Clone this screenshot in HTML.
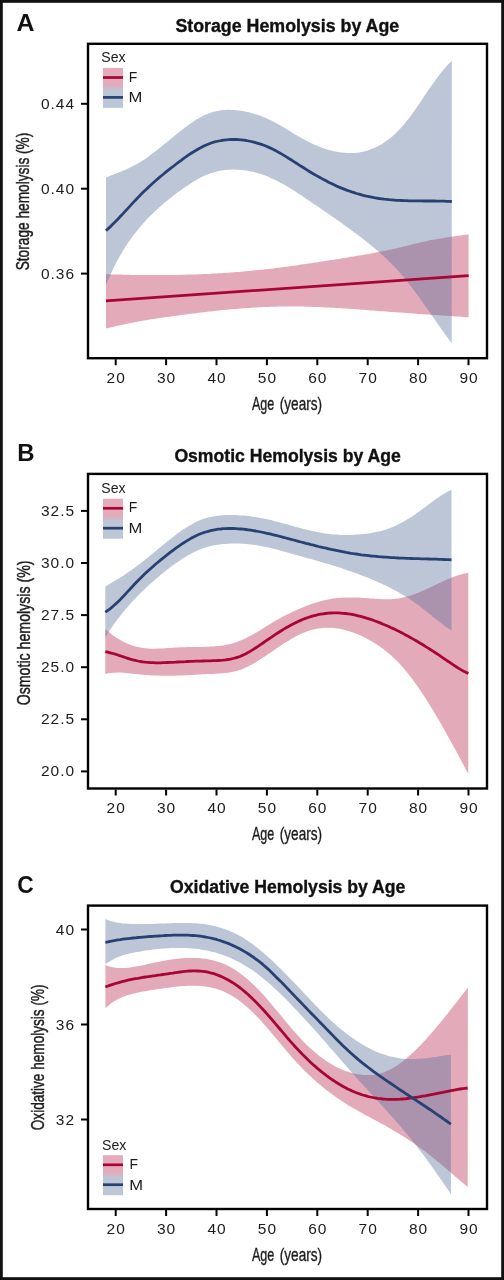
<!DOCTYPE html>
<html><head><meta charset="utf-8"><style>
html,body{margin:0;padding:0;background:#fff;}
svg{display:block;font-family:"Liberation Sans", sans-serif;will-change:transform;}
</style></head><body>
<svg width="504" height="1280" viewBox="0 0 504 1280">
<defs><linearGradient id="lg" x1="0" y1="0" x2="0" y2="1">
<stop offset="0" stop-color="#e4abbb"/><stop offset="0.43" stop-color="#e4abbb"/><stop offset="0.57" stop-color="#bcc6d7"/><stop offset="1" stop-color="#bcc6d7"/>
</linearGradient></defs>
<rect x="0" y="0" width="504" height="1280" fill="#fff"/>
<path d="M106.0,274.2 L108.5,274.3 L111.0,274.4 L113.5,274.4 L116.0,274.5 L118.5,274.6 L121.0,274.6 L123.5,274.7 L126.0,274.8 L128.5,274.8 L131.0,274.9 L133.5,274.9 L136.0,274.9 L138.5,275.0 L141.0,275.0 L143.5,275.0 L146.0,275.1 L148.5,275.1 L151.0,275.1 L153.5,275.1 L156.0,275.1 L158.5,275.1 L161.0,275.1 L163.5,275.1 L166.0,275.0 L168.5,275.0 L171.0,275.0 L173.5,274.9 L176.0,274.9 L178.5,274.9 L181.0,274.8 L183.5,274.7 L186.0,274.7 L188.5,274.6 L191.0,274.5 L193.5,274.5 L196.0,274.4 L198.5,274.3 L201.0,274.2 L203.5,274.1 L206.0,274.0 L208.5,273.9 L211.0,273.7 L213.5,273.6 L216.0,273.5 L218.5,273.3 L221.0,273.2 L223.5,273.0 L226.0,272.8 L228.5,272.7 L231.0,272.5 L233.5,272.3 L236.0,272.1 L238.5,271.9 L241.0,271.7 L243.5,271.5 L246.0,271.3 L248.5,271.1 L251.0,270.8 L253.5,270.6 L256.0,270.3 L258.5,270.1 L261.0,269.8 L263.5,269.5 L266.0,269.2 L268.5,269.0 L271.0,268.7 L273.5,268.4 L276.0,268.0 L278.5,267.7 L281.0,267.4 L283.5,267.1 L286.0,266.8 L288.6,266.4 L291.1,266.1 L293.6,265.7 L296.1,265.4 L298.6,265.0 L301.1,264.6 L303.6,264.3 L306.1,263.9 L308.6,263.5 L311.1,263.2 L313.6,262.8 L316.1,262.4 L318.6,262.0 L321.1,261.6 L323.6,261.2 L326.1,260.8 L328.6,260.4 L331.1,260.1 L333.6,259.7 L336.1,259.3 L338.6,258.9 L341.1,258.5 L343.6,258.1 L346.1,257.7 L348.6,257.3 L351.1,256.8 L353.6,256.4 L356.1,256.0 L358.6,255.6 L361.1,255.2 L363.6,254.8 L366.1,254.3 L368.6,253.9 L371.1,253.5 L373.6,253.0 L376.1,252.5 L378.6,252.1 L381.1,251.6 L383.6,251.1 L386.1,250.6 L388.6,250.0 L391.1,249.5 L393.6,248.9 L396.1,248.4 L398.6,247.8 L401.1,247.2 L403.6,246.6 L406.1,245.9 L408.6,245.3 L411.1,244.7 L413.6,244.1 L416.1,243.5 L418.6,242.9 L421.1,242.3 L423.6,241.7 L426.1,241.2 L428.6,240.6 L431.1,240.1 L433.6,239.7 L436.1,239.2 L438.6,238.8 L441.1,238.4 L443.6,238.0 L446.1,237.6 L448.6,237.2 L451.1,236.8 L453.6,236.5 L456.1,236.1 L458.6,235.7 L461.1,235.4 L463.6,235.0 L466.1,234.7 L468.6,234.3 L468.6,317.3 L466.1,317.2 L463.6,317.0 L461.1,316.8 L458.6,316.6 L456.1,316.5 L453.6,316.3 L451.1,316.1 L448.6,316.0 L446.1,315.8 L443.6,315.6 L441.1,315.4 L438.6,315.3 L436.1,315.1 L433.6,314.9 L431.1,314.7 L428.6,314.6 L426.1,314.4 L423.6,314.2 L421.1,314.0 L418.6,313.9 L416.1,313.7 L413.6,313.5 L411.1,313.3 L408.6,313.2 L406.1,313.0 L403.6,312.8 L401.1,312.6 L398.6,312.4 L396.1,312.3 L393.6,312.1 L391.1,311.9 L388.6,311.7 L386.1,311.5 L383.6,311.3 L381.1,311.2 L378.6,311.0 L376.1,310.8 L373.6,310.6 L371.1,310.4 L368.6,310.2 L366.1,310.0 L363.6,309.8 L361.1,309.7 L358.6,309.5 L356.1,309.3 L353.6,309.1 L351.1,308.9 L348.6,308.8 L346.1,308.6 L343.6,308.4 L341.1,308.3 L338.6,308.1 L336.1,308.0 L333.6,307.8 L331.1,307.7 L328.6,307.6 L326.1,307.4 L323.6,307.3 L321.1,307.2 L318.6,307.1 L316.1,307.0 L313.6,306.9 L311.1,306.8 L308.6,306.7 L306.1,306.7 L303.6,306.6 L301.1,306.6 L298.6,306.5 L296.1,306.5 L293.6,306.5 L291.1,306.5 L288.6,306.5 L286.0,306.5 L283.5,306.5 L281.0,306.6 L278.5,306.6 L276.0,306.7 L273.5,306.8 L271.0,306.8 L268.5,306.9 L266.0,307.0 L263.5,307.1 L261.0,307.2 L258.5,307.3 L256.0,307.5 L253.5,307.6 L251.0,307.8 L248.5,307.9 L246.0,308.1 L243.5,308.3 L241.0,308.5 L238.5,308.7 L236.0,308.9 L233.5,309.1 L231.0,309.3 L228.5,309.5 L226.0,309.8 L223.5,310.0 L221.0,310.3 L218.5,310.5 L216.0,310.8 L213.5,311.1 L211.0,311.4 L208.5,311.6 L206.0,311.9 L203.5,312.2 L201.0,312.5 L198.5,312.8 L196.0,313.2 L193.5,313.5 L191.0,313.8 L188.5,314.1 L186.0,314.4 L183.5,314.8 L181.0,315.1 L178.5,315.4 L176.0,315.7 L173.5,316.1 L171.0,316.4 L168.5,316.8 L166.0,317.1 L163.5,317.5 L161.0,317.8 L158.5,318.2 L156.0,318.6 L153.5,318.9 L151.0,319.3 L148.5,319.7 L146.0,320.2 L143.5,320.6 L141.0,321.0 L138.5,321.5 L136.0,322.0 L133.5,322.5 L131.0,322.9 L128.5,323.4 L126.0,324.0 L123.5,324.5 L121.0,325.0 L118.5,325.6 L116.0,326.1 L113.5,326.7 L111.0,327.3 L108.5,327.9 L106.0,328.5 Z" fill="#b82a52" fill-opacity="0.40"/>
<path d="M106.0,177.6 L108.5,176.5 L111.0,175.5 L113.5,174.5 L116.0,173.5 L118.5,172.5 L121.0,171.5 L123.5,170.4 L126.0,169.4 L128.6,168.3 L131.1,167.1 L133.6,165.8 L136.1,164.5 L138.6,163.1 L141.1,161.5 L143.6,159.9 L146.1,158.2 L148.6,156.5 L151.1,154.6 L153.6,152.7 L156.1,150.8 L158.6,148.8 L161.1,146.8 L163.6,144.8 L166.1,142.7 L168.6,140.7 L171.2,138.6 L173.7,136.5 L176.2,134.5 L178.7,132.5 L181.2,130.5 L183.7,128.5 L186.2,126.7 L188.7,124.8 L191.2,123.1 L193.7,121.4 L196.2,119.8 L198.7,118.3 L201.2,116.9 L203.7,115.6 L206.2,114.5 L208.7,113.5 L211.2,112.6 L213.7,111.8 L216.3,111.2 L218.8,110.7 L221.3,110.3 L223.8,110.1 L226.3,109.9 L228.8,109.8 L231.3,109.9 L233.8,110.0 L236.3,110.2 L238.8,110.5 L241.3,110.8 L243.8,111.3 L246.3,111.7 L248.8,112.3 L251.3,113.0 L253.8,113.7 L256.3,114.4 L258.9,115.3 L261.4,116.2 L263.9,117.2 L266.4,118.3 L268.9,119.4 L271.4,120.6 L273.9,121.9 L276.4,123.3 L278.9,124.7 L281.4,126.1 L283.9,127.6 L286.4,129.1 L288.9,130.6 L291.4,132.1 L293.9,133.7 L296.4,135.2 L298.9,136.6 L301.5,138.1 L304.0,139.5 L306.5,140.8 L309.0,142.1 L311.5,143.3 L314.0,144.4 L316.5,145.5 L319.0,146.5 L321.5,147.5 L324.0,148.4 L326.5,149.2 L329.0,149.9 L331.5,150.6 L334.0,151.2 L336.5,151.7 L339.0,152.2 L341.5,152.5 L344.1,152.8 L346.6,153.0 L349.1,153.1 L351.6,153.1 L354.1,153.0 L356.6,152.7 L359.1,152.4 L361.6,152.0 L364.1,151.5 L366.6,150.8 L369.1,150.0 L371.6,149.1 L374.1,148.1 L376.6,146.9 L379.1,145.6 L381.6,144.2 L384.1,142.6 L386.6,140.8 L389.2,138.9 L391.7,136.9 L394.2,134.7 L396.7,132.3 L399.2,129.8 L401.7,127.1 L404.2,124.2 L406.7,121.1 L409.2,117.9 L411.7,114.5 L414.2,111.0 L416.7,107.4 L419.2,103.8 L421.7,100.1 L424.2,96.3 L426.7,92.6 L429.2,88.9 L431.8,85.3 L434.3,81.7 L436.8,78.3 L439.3,74.9 L441.8,71.7 L444.3,68.7 L446.8,65.8 L449.3,63.2 L451.8,60.8 L451.7,343.2 L449.2,339.8 L446.7,336.4 L444.2,333.0 L441.7,329.5 L439.2,325.9 L436.7,322.4 L434.2,318.8 L431.7,315.2 L429.2,311.5 L426.6,308.0 L424.1,304.4 L421.6,300.8 L419.1,297.3 L416.6,293.9 L414.1,290.5 L411.6,287.1 L409.1,283.9 L406.6,280.7 L404.1,277.6 L401.6,274.7 L399.1,271.8 L396.6,269.1 L394.1,266.4 L391.6,263.9 L389.1,261.4 L386.6,259.0 L384.1,256.6 L381.6,254.3 L379.1,252.1 L376.5,250.0 L374.0,247.8 L371.5,245.8 L369.0,243.7 L366.5,241.7 L364.0,239.8 L361.5,237.8 L359.0,235.9 L356.5,234.0 L354.0,232.2 L351.5,230.3 L349.0,228.5 L346.5,226.7 L344.0,224.9 L341.5,223.1 L339.0,221.3 L336.5,219.6 L334.0,217.8 L331.5,216.0 L329.0,214.3 L326.4,212.5 L323.9,210.8 L321.4,209.1 L318.9,207.3 L316.4,205.6 L313.9,203.9 L311.4,202.2 L308.9,200.5 L306.4,198.9 L303.9,197.2 L301.4,195.5 L298.9,193.9 L296.4,192.2 L293.9,190.6 L291.4,189.1 L288.9,187.5 L286.4,186.0 L283.9,184.6 L281.4,183.2 L278.8,181.8 L276.3,180.5 L273.8,179.3 L271.3,178.2 L268.8,177.1 L266.3,176.1 L263.8,175.1 L261.3,174.3 L258.8,173.5 L256.3,172.8 L253.8,172.1 L251.3,171.5 L248.8,171.0 L246.3,170.6 L243.8,170.3 L241.3,170.0 L238.8,169.8 L236.3,169.7 L233.8,169.6 L231.3,169.6 L228.7,169.8 L226.2,170.0 L223.7,170.2 L221.2,170.6 L218.7,171.1 L216.2,171.7 L213.7,172.4 L211.2,173.1 L208.7,174.0 L206.2,175.0 L203.7,176.1 L201.2,177.3 L198.7,178.6 L196.2,180.0 L193.7,181.5 L191.2,183.1 L188.7,184.7 L186.2,186.4 L183.7,188.1 L181.2,189.9 L178.6,191.7 L176.1,193.6 L173.6,195.5 L171.1,197.5 L168.6,199.5 L166.1,201.5 L163.6,203.6 L161.1,205.8 L158.6,208.0 L156.1,210.3 L153.6,212.7 L151.1,215.1 L148.6,217.6 L146.1,220.3 L143.6,223.0 L141.1,225.9 L138.6,228.8 L136.1,231.9 L133.6,235.1 L131.1,238.5 L128.5,242.0 L126.0,245.8 L123.5,249.7 L121.0,253.9 L118.5,258.3 L116.0,263.0 L113.5,268.0 L111.0,273.4 L108.5,279.0 L106.0,285.0 Z" fill="#57709a" fill-opacity="0.40"/>
<path d="M106.0,300.8 L468.6,275.7" fill="none" stroke="#a80535" stroke-width="2.8" stroke-linejoin="round"/>
<path d="M106.0,230.6 L108.5,228.4 L111.0,226.1 L113.5,223.6 L116.0,221.1 L118.5,218.5 L121.0,215.8 L123.5,213.1 L126.0,210.4 L128.6,207.6 L131.1,204.9 L133.6,202.1 L136.1,199.5 L138.6,196.9 L141.1,194.3 L143.6,191.8 L146.1,189.4 L148.6,187.1 L151.1,184.8 L153.6,182.5 L156.1,180.3 L158.6,178.1 L161.1,176.0 L163.6,174.0 L166.1,171.9 L168.6,169.9 L171.2,167.9 L173.7,166.0 L176.2,164.0 L178.7,162.1 L181.2,160.3 L183.7,158.4 L186.2,156.7 L188.7,154.9 L191.2,153.3 L193.7,151.7 L196.2,150.2 L198.7,148.7 L201.2,147.4 L203.7,146.1 L206.2,145.0 L208.7,144.0 L211.2,143.0 L213.7,142.2 L216.3,141.5 L218.8,141.0 L221.3,140.5 L223.8,140.1 L226.3,139.8 L228.8,139.6 L231.3,139.5 L233.8,139.4 L236.3,139.5 L238.8,139.6 L241.3,139.9 L243.8,140.2 L246.3,140.5 L248.8,141.0 L251.3,141.5 L253.8,142.1 L256.3,142.8 L258.9,143.6 L261.4,144.4 L263.9,145.3 L266.4,146.3 L268.9,147.4 L271.4,148.5 L273.9,149.8 L276.4,151.1 L278.9,152.5 L281.4,153.9 L283.9,155.4 L286.4,156.9 L288.9,158.5 L291.4,160.0 L293.9,161.6 L296.4,163.2 L298.9,164.9 L301.5,166.5 L304.0,168.0 L306.5,169.6 L309.0,171.2 L311.5,172.7 L314.0,174.2 L316.5,175.6 L319.0,177.0 L321.5,178.4 L324.0,179.8 L326.5,181.1 L329.0,182.4 L331.5,183.6 L334.0,184.8 L336.5,186.0 L339.0,187.1 L341.5,188.1 L344.1,189.1 L346.6,190.1 L349.1,191.0 L351.6,191.9 L354.1,192.7 L356.6,193.5 L359.1,194.2 L361.6,194.9 L364.1,195.6 L366.6,196.2 L369.1,196.7 L371.6,197.2 L374.1,197.7 L376.6,198.1 L379.1,198.5 L381.6,198.8 L384.1,199.2 L386.6,199.4 L389.2,199.7 L391.7,199.9 L394.2,200.1 L396.7,200.3 L399.2,200.4 L401.7,200.5 L404.2,200.6 L406.7,200.7 L409.2,200.8 L411.7,200.8 L414.2,200.9 L416.7,200.9 L419.2,200.9 L421.7,200.9 L424.2,201.0 L426.7,201.0 L429.2,201.0 L431.8,201.0 L434.3,201.0 L436.8,201.1 L439.3,201.1 L441.8,201.1 L444.3,201.2 L446.8,201.3 L449.3,201.4 L451.8,201.5" fill="none" stroke="#284173" stroke-width="2.8" stroke-linejoin="round"/>
<rect x="88.0" y="43.8" width="399.0" height="314.4" fill="none" stroke="#000" stroke-width="2.4"/>
<line x1="115.7" x2="115.7" y1="359.2" y2="365.2" stroke="#000" stroke-width="2"/>
<text x="116.2" y="382.7" font-size="15.5" text-anchor="middle" letter-spacing="1.0" fill="#1c1c1c">20</text>
<line x1="166.1" x2="166.1" y1="359.2" y2="365.2" stroke="#000" stroke-width="2"/>
<text x="166.6" y="382.7" font-size="15.5" text-anchor="middle" letter-spacing="1.0" fill="#1c1c1c">30</text>
<line x1="216.5" x2="216.5" y1="359.2" y2="365.2" stroke="#000" stroke-width="2"/>
<text x="217.0" y="382.7" font-size="15.5" text-anchor="middle" letter-spacing="1.0" fill="#1c1c1c">40</text>
<line x1="266.9" x2="266.9" y1="359.2" y2="365.2" stroke="#000" stroke-width="2"/>
<text x="267.4" y="382.7" font-size="15.5" text-anchor="middle" letter-spacing="1.0" fill="#1c1c1c">50</text>
<line x1="317.3" x2="317.3" y1="359.2" y2="365.2" stroke="#000" stroke-width="2"/>
<text x="317.8" y="382.7" font-size="15.5" text-anchor="middle" letter-spacing="1.0" fill="#1c1c1c">60</text>
<line x1="367.7" x2="367.7" y1="359.2" y2="365.2" stroke="#000" stroke-width="2"/>
<text x="368.2" y="382.7" font-size="15.5" text-anchor="middle" letter-spacing="1.0" fill="#1c1c1c">70</text>
<line x1="418.1" x2="418.1" y1="359.2" y2="365.2" stroke="#000" stroke-width="2"/>
<text x="418.6" y="382.7" font-size="15.5" text-anchor="middle" letter-spacing="1.0" fill="#1c1c1c">80</text>
<line x1="468.5" x2="468.5" y1="359.2" y2="365.2" stroke="#000" stroke-width="2"/>
<text x="469.0" y="382.7" font-size="15.5" text-anchor="middle" letter-spacing="1.0" fill="#1c1c1c">90</text>
<line x1="81.0" x2="87.0" y1="103.8" y2="103.8" stroke="#000" stroke-width="2"/>
<text x="75.1" y="108.8" font-size="15.5" text-anchor="end" letter-spacing="1.0" fill="#1c1c1c">0.44</text>
<line x1="81.0" x2="87.0" y1="188.7" y2="188.7" stroke="#000" stroke-width="2"/>
<text x="75.1" y="193.7" font-size="15.5" text-anchor="end" letter-spacing="1.0" fill="#1c1c1c">0.40</text>
<line x1="81.0" x2="87.0" y1="273.6" y2="273.6" stroke="#000" stroke-width="2"/>
<text x="75.1" y="278.6" font-size="15.5" text-anchor="end" letter-spacing="1.0" fill="#1c1c1c">0.36</text>
<text x="175.39" y="31.50" font-size="18.00" font-weight="bold" fill="#111" textLength="223.82" lengthAdjust="spacingAndGlyphs" stroke="#111" stroke-width="0.35">Storage Hemolysis by Age</text>
<text x="16.48" y="31.40" font-size="24.50" font-weight="bold" fill="#111" textLength="17.98" lengthAdjust="spacingAndGlyphs">A</text>
<text x="251.98" y="409.60" font-size="19.00" fill="#1c1c1c" textLength="22.38" lengthAdjust="spacingAndGlyphs" stroke="#1c1c1c" stroke-width="0.35">Age</text>
<text x="279.76" y="409.60" font-size="19.00" fill="#1c1c1c" textLength="42.39" lengthAdjust="spacingAndGlyphs" stroke="#1c1c1c" stroke-width="0.35">(years)</text>
<text transform="translate(29.40,270.32) rotate(-90)" x="0" y="0" font-size="18.50" fill="#1c1c1c" textLength="137.67" lengthAdjust="spacingAndGlyphs" stroke="#1c1c1c" stroke-width="0.45">Storage hemolysis (%)</text>
<text x="101.26" y="62.30" font-size="14.60" fill="#1c1c1c" textLength="24.29" lengthAdjust="spacingAndGlyphs">Sex</text>
<rect x="103.0" y="67.9" width="20" height="40" fill="url(#lg)"/>
<line x1="103.0" x2="123.0" y1="77.5" y2="77.5" stroke="#a80535" stroke-width="2.7"/>
<line x1="103.0" x2="123.0" y1="97.4" y2="97.4" stroke="#284173" stroke-width="2.7"/>
<text x="128.66" y="81.60" font-size="15.00" fill="#1c1c1c" textLength="8.50" lengthAdjust="spacingAndGlyphs">F</text>
<text x="128.44" y="102.20" font-size="15.00" fill="#1c1c1c" textLength="13.82" lengthAdjust="spacingAndGlyphs">M</text>
<path d="M105.3,629.3 L107.8,631.3 L110.3,633.3 L112.8,635.2 L115.3,636.9 L117.8,638.5 L120.3,640.0 L122.8,641.4 L125.3,642.7 L127.8,643.8 L130.3,644.8 L132.8,645.7 L135.3,646.5 L137.8,647.1 L140.3,647.6 L142.9,648.0 L145.4,648.3 L147.9,648.5 L150.4,648.7 L152.9,648.7 L155.4,648.7 L157.9,648.6 L160.4,648.5 L162.9,648.4 L165.4,648.2 L167.9,648.0 L170.4,647.9 L172.9,647.7 L175.4,647.5 L177.9,647.4 L180.4,647.3 L182.9,647.2 L185.4,647.2 L187.9,647.1 L190.4,647.1 L192.9,647.1 L195.4,647.0 L197.9,647.0 L200.4,646.9 L202.9,646.9 L205.4,646.8 L207.9,646.7 L210.4,646.6 L212.9,646.4 L215.5,646.2 L218.0,646.0 L220.5,645.7 L223.0,645.4 L225.5,644.9 L228.0,644.4 L230.5,643.9 L233.0,643.2 L235.5,642.5 L238.0,641.6 L240.5,640.6 L243.0,639.6 L245.5,638.4 L248.0,637.1 L250.5,635.8 L253.0,634.4 L255.5,632.9 L258.0,631.4 L260.5,629.9 L263.0,628.4 L265.5,626.8 L268.0,625.3 L270.5,623.8 L273.0,622.3 L275.5,620.8 L278.0,619.4 L280.5,618.0 L283.0,616.6 L285.5,615.3 L288.1,614.0 L290.6,612.8 L293.1,611.6 L295.6,610.4 L298.1,609.3 L300.6,608.2 L303.1,607.2 L305.6,606.2 L308.1,605.2 L310.6,604.3 L313.1,603.5 L315.6,602.7 L318.1,601.9 L320.6,601.2 L323.1,600.6 L325.6,600.0 L328.1,599.5 L330.6,599.0 L333.1,598.6 L335.6,598.3 L338.1,598.0 L340.6,597.8 L343.1,597.6 L345.6,597.5 L348.1,597.4 L350.6,597.4 L353.1,597.4 L355.6,597.5 L358.1,597.6 L360.7,597.7 L363.2,597.9 L365.7,598.0 L368.2,598.2 L370.7,598.4 L373.2,598.6 L375.7,598.8 L378.2,598.9 L380.7,599.1 L383.2,599.2 L385.7,599.2 L388.2,599.2 L390.7,599.2 L393.2,599.1 L395.7,598.8 L398.2,598.5 L400.7,598.1 L403.2,597.6 L405.7,597.0 L408.2,596.3 L410.7,595.5 L413.2,594.6 L415.7,593.7 L418.2,592.7 L420.7,591.7 L423.2,590.6 L425.7,589.5 L428.2,588.3 L430.7,587.1 L433.3,586.0 L435.8,584.8 L438.3,583.6 L440.8,582.4 L443.3,581.3 L445.8,580.1 L448.3,579.1 L450.8,578.0 L453.3,577.0 L455.8,576.1 L458.3,575.2 L460.8,574.5 L463.3,573.8 L465.8,573.2 L468.3,572.7 L468.3,773.9 L465.8,769.2 L463.3,764.6 L460.8,759.9 L458.3,755.3 L455.8,750.6 L453.3,746.0 L450.8,741.5 L448.3,736.9 L445.8,732.4 L443.3,728.0 L440.8,723.6 L438.3,719.3 L435.8,715.0 L433.3,710.8 L430.7,706.7 L428.2,702.6 L425.7,698.6 L423.2,694.8 L420.7,691.0 L418.2,687.3 L415.7,683.8 L413.2,680.3 L410.7,677.0 L408.2,673.8 L405.7,670.7 L403.2,667.7 L400.7,664.9 L398.2,662.3 L395.7,659.8 L393.2,657.4 L390.7,655.1 L388.2,652.9 L385.7,650.9 L383.2,649.0 L380.7,647.1 L378.2,645.4 L375.7,643.8 L373.2,642.2 L370.7,640.8 L368.2,639.4 L365.7,638.0 L363.2,636.8 L360.7,635.6 L358.1,634.5 L355.6,633.5 L353.1,632.5 L350.6,631.7 L348.1,630.9 L345.6,630.2 L343.1,629.6 L340.6,629.0 L338.1,628.6 L335.6,628.2 L333.1,628.0 L330.6,627.8 L328.1,627.8 L325.6,627.8 L323.1,628.0 L320.6,628.2 L318.1,628.5 L315.6,629.0 L313.1,629.5 L310.6,630.2 L308.1,631.0 L305.6,631.9 L303.1,632.9 L300.6,634.0 L298.1,635.2 L295.6,636.5 L293.1,637.9 L290.6,639.3 L288.1,640.9 L285.5,642.4 L283.0,644.1 L280.5,645.7 L278.0,647.4 L275.5,649.1 L273.0,650.9 L270.5,652.6 L268.0,654.3 L265.5,656.0 L263.0,657.6 L260.5,659.3 L258.0,660.8 L255.5,662.4 L253.0,663.8 L250.5,665.2 L248.0,666.5 L245.5,667.6 L243.0,668.7 L240.5,669.7 L238.0,670.5 L235.5,671.2 L233.0,671.8 L230.5,672.3 L228.0,672.7 L225.5,673.0 L223.0,673.3 L220.5,673.5 L218.0,673.6 L215.5,673.8 L212.9,673.9 L210.4,674.0 L207.9,674.1 L205.4,674.2 L202.9,674.3 L200.4,674.4 L197.9,674.6 L195.4,674.7 L192.9,674.9 L190.4,675.0 L187.9,675.2 L185.4,675.3 L182.9,675.4 L180.4,675.5 L177.9,675.6 L175.4,675.7 L172.9,675.7 L170.4,675.8 L167.9,675.8 L165.4,675.8 L162.9,675.7 L160.4,675.7 L157.9,675.6 L155.4,675.5 L152.9,675.4 L150.4,675.2 L147.9,675.1 L145.4,674.9 L142.9,674.7 L140.3,674.5 L137.8,674.2 L135.3,674.0 L132.8,673.7 L130.3,673.4 L127.8,673.2 L125.3,672.9 L122.8,672.8 L120.3,672.6 L117.8,672.6 L115.3,672.7 L112.8,672.8 L110.3,673.1 L107.8,673.5 L105.3,674.1 Z" fill="#b82a52" fill-opacity="0.40"/>
<path d="M105.3,586.5 L107.8,585.1 L110.3,583.6 L112.8,582.1 L115.3,580.6 L117.8,579.1 L120.4,577.5 L122.9,575.9 L125.4,574.2 L127.9,572.5 L130.4,570.8 L132.9,569.0 L135.4,567.2 L137.9,565.3 L140.4,563.4 L142.9,561.4 L145.4,559.4 L147.9,557.4 L150.5,555.3 L153.0,553.3 L155.5,551.2 L158.0,549.1 L160.5,547.0 L163.0,545.0 L165.5,542.9 L168.0,540.9 L170.5,538.9 L173.0,536.9 L175.5,535.0 L178.1,533.1 L180.6,531.3 L183.1,529.6 L185.6,527.9 L188.1,526.4 L190.6,524.9 L193.1,523.5 L195.6,522.2 L198.1,521.0 L200.6,520.0 L203.1,519.0 L205.6,518.2 L208.2,517.5 L210.7,516.9 L213.2,516.4 L215.7,516.0 L218.2,515.7 L220.7,515.4 L223.2,515.2 L225.7,515.1 L228.2,515.0 L230.7,515.0 L233.2,515.1 L235.8,515.1 L238.3,515.2 L240.8,515.4 L243.3,515.6 L245.8,515.8 L248.3,516.1 L250.8,516.4 L253.3,516.7 L255.8,517.1 L258.3,517.5 L260.8,518.0 L263.3,518.5 L265.9,519.0 L268.4,519.6 L270.9,520.1 L273.4,520.8 L275.9,521.4 L278.4,522.1 L280.9,522.7 L283.4,523.4 L285.9,524.1 L288.4,524.8 L290.9,525.5 L293.5,526.2 L296.0,526.9 L298.5,527.6 L301.0,528.2 L303.5,528.9 L306.0,529.5 L308.5,530.1 L311.0,530.7 L313.5,531.3 L316.0,531.8 L318.5,532.3 L321.0,532.8 L323.6,533.2 L326.1,533.5 L328.6,533.9 L331.1,534.2 L333.6,534.4 L336.1,534.6 L338.6,534.7 L341.1,534.9 L343.6,534.9 L346.1,534.9 L348.6,534.9 L351.2,534.9 L353.7,534.8 L356.2,534.6 L358.7,534.5 L361.2,534.3 L363.7,534.0 L366.2,533.7 L368.7,533.4 L371.2,533.0 L373.7,532.6 L376.2,532.1 L378.7,531.5 L381.3,530.9 L383.8,530.2 L386.3,529.4 L388.8,528.5 L391.3,527.6 L393.8,526.5 L396.3,525.4 L398.8,524.1 L401.3,522.8 L403.8,521.4 L406.3,520.0 L408.9,518.5 L411.4,516.9 L413.9,515.2 L416.4,513.5 L418.9,511.7 L421.4,509.9 L423.9,508.1 L426.4,506.2 L428.9,504.3 L431.4,502.5 L433.9,500.6 L436.4,498.8 L439.0,497.0 L441.5,495.3 L444.0,493.7 L446.5,492.2 L449.0,490.9 L451.5,489.7 L451.5,630.6 L449.0,629.0 L446.5,627.2 L444.0,625.4 L441.5,623.5 L439.0,621.5 L436.4,619.5 L433.9,617.5 L431.4,615.4 L428.9,613.4 L426.4,611.4 L423.9,609.4 L421.4,607.4 L418.9,605.6 L416.4,603.8 L413.9,602.0 L411.4,600.3 L408.9,598.6 L406.3,597.0 L403.8,595.5 L401.3,594.0 L398.8,592.5 L396.3,591.1 L393.8,589.7 L391.3,588.4 L388.8,587.1 L386.3,585.9 L383.8,584.7 L381.3,583.5 L378.7,582.4 L376.2,581.3 L373.7,580.2 L371.2,579.2 L368.7,578.1 L366.2,577.1 L363.7,576.2 L361.2,575.2 L358.7,574.3 L356.2,573.3 L353.7,572.4 L351.2,571.5 L348.6,570.7 L346.1,569.8 L343.6,568.9 L341.1,568.1 L338.6,567.3 L336.1,566.5 L333.6,565.7 L331.1,564.9 L328.6,564.1 L326.1,563.4 L323.6,562.7 L321.0,561.9 L318.5,561.2 L316.0,560.5 L313.5,559.8 L311.0,559.1 L308.5,558.4 L306.0,557.7 L303.5,557.0 L301.0,556.3 L298.5,555.6 L296.0,554.9 L293.5,554.2 L290.9,553.5 L288.4,552.8 L285.9,552.1 L283.4,551.4 L280.9,550.7 L278.4,550.0 L275.9,549.3 L273.4,548.7 L270.9,548.1 L268.4,547.5 L265.9,546.9 L263.3,546.4 L260.8,546.0 L258.3,545.5 L255.8,545.1 L253.3,544.8 L250.8,544.5 L248.3,544.2 L245.8,544.0 L243.3,543.8 L240.8,543.7 L238.3,543.6 L235.8,543.6 L233.2,543.6 L230.7,543.6 L228.2,543.7 L225.7,543.9 L223.2,544.1 L220.7,544.3 L218.2,544.7 L215.7,545.1 L213.2,545.5 L210.7,546.1 L208.2,546.7 L205.6,547.5 L203.1,548.3 L200.6,549.2 L198.1,550.2 L195.6,551.4 L193.1,552.6 L190.6,553.9 L188.1,555.3 L185.6,556.8 L183.1,558.3 L180.6,560.0 L178.1,561.7 L175.5,563.4 L173.0,565.3 L170.5,567.1 L168.0,569.0 L165.5,571.0 L163.0,573.0 L160.5,575.1 L158.0,577.2 L155.5,579.3 L153.0,581.5 L150.5,583.8 L147.9,586.1 L145.4,588.4 L142.9,590.8 L140.4,593.3 L137.9,595.8 L135.4,598.4 L132.9,601.1 L130.4,603.8 L127.9,606.7 L125.4,609.6 L122.9,612.6 L120.4,615.7 L117.8,618.9 L115.3,622.3 L112.8,625.8 L110.3,629.4 L107.8,633.2 L105.3,637.1 Z" fill="#57709a" fill-opacity="0.40"/>
<path d="M105.3,651.7 L107.8,652.2 L110.3,652.8 L112.8,653.5 L115.3,654.2 L117.8,655.0 L120.3,655.8 L122.8,656.7 L125.3,657.5 L127.8,658.3 L130.3,659.1 L132.8,659.8 L135.3,660.4 L137.8,661.0 L140.3,661.5 L142.9,661.9 L145.4,662.2 L147.9,662.4 L150.4,662.6 L152.9,662.7 L155.4,662.8 L157.9,662.8 L160.4,662.8 L162.9,662.7 L165.4,662.7 L167.9,662.5 L170.4,662.4 L172.9,662.3 L175.4,662.2 L177.9,662.0 L180.4,661.9 L182.9,661.8 L185.4,661.7 L187.9,661.5 L190.4,661.4 L192.9,661.3 L195.4,661.2 L197.9,661.2 L200.4,661.1 L202.9,661.0 L205.4,660.9 L207.9,660.9 L210.4,660.8 L212.9,660.7 L215.5,660.7 L218.0,660.5 L220.5,660.4 L223.0,660.2 L225.5,659.9 L228.0,659.5 L230.5,659.1 L233.0,658.5 L235.5,657.9 L238.0,657.1 L240.5,656.2 L243.0,655.1 L245.5,653.9 L248.0,652.6 L250.5,651.1 L253.0,649.6 L255.5,648.0 L258.0,646.4 L260.5,644.7 L263.0,643.0 L265.5,641.2 L268.0,639.5 L270.5,637.8 L273.0,636.1 L275.5,634.4 L278.0,632.8 L280.5,631.2 L283.0,629.6 L285.5,628.1 L288.1,626.7 L290.6,625.3 L293.1,624.0 L295.6,622.7 L298.1,621.5 L300.6,620.4 L303.1,619.3 L305.6,618.4 L308.1,617.5 L310.6,616.7 L313.1,615.9 L315.6,615.3 L318.1,614.7 L320.6,614.2 L323.1,613.8 L325.6,613.5 L328.1,613.2 L330.6,613.0 L333.1,612.9 L335.6,612.9 L338.1,612.9 L340.6,613.1 L343.1,613.3 L345.6,613.5 L348.1,613.8 L350.6,614.2 L353.1,614.7 L355.6,615.2 L358.1,615.8 L360.7,616.4 L363.2,617.1 L365.7,617.8 L368.2,618.6 L370.7,619.4 L373.2,620.3 L375.7,621.2 L378.2,622.1 L380.7,623.1 L383.2,624.2 L385.7,625.2 L388.2,626.3 L390.7,627.5 L393.2,628.6 L395.7,629.8 L398.2,631.1 L400.7,632.3 L403.2,633.6 L405.7,635.0 L408.2,636.3 L410.7,637.7 L413.2,639.1 L415.7,640.5 L418.2,642.0 L420.7,643.5 L423.2,645.0 L425.7,646.6 L428.2,648.1 L430.7,649.7 L433.3,651.4 L435.8,653.0 L438.3,654.7 L440.8,656.4 L443.3,658.1 L445.8,659.8 L448.3,661.5 L450.8,663.2 L453.3,664.9 L455.8,666.5 L458.3,668.1 L460.8,669.6 L463.3,671.0 L465.8,672.3 L468.3,673.6" fill="none" stroke="#a80535" stroke-width="2.8" stroke-linejoin="round"/>
<path d="M105.3,612.2 L107.8,610.5 L110.3,608.6 L112.8,606.5 L115.3,604.3 L117.8,601.9 L120.4,599.4 L122.9,596.8 L125.4,594.1 L127.9,591.4 L130.4,588.7 L132.9,586.0 L135.4,583.3 L137.9,580.7 L140.4,578.2 L142.9,575.7 L145.4,573.3 L147.9,571.0 L150.5,568.7 L153.0,566.5 L155.5,564.3 L158.0,562.2 L160.5,560.1 L163.0,558.1 L165.5,556.1 L168.0,554.1 L170.5,552.2 L173.0,550.3 L175.5,548.4 L178.1,546.6 L180.6,544.9 L183.1,543.2 L185.6,541.6 L188.1,540.1 L190.6,538.6 L193.1,537.3 L195.6,536.0 L198.1,534.8 L200.6,533.8 L203.1,532.8 L205.6,532.0 L208.2,531.3 L210.7,530.6 L213.2,530.1 L215.7,529.6 L218.2,529.2 L220.7,529.0 L223.2,528.7 L225.7,528.6 L228.2,528.5 L230.7,528.5 L233.2,528.5 L235.8,528.6 L238.3,528.8 L240.8,529.0 L243.3,529.2 L245.8,529.5 L248.3,529.8 L250.8,530.2 L253.3,530.6 L255.8,531.0 L258.3,531.5 L260.8,532.0 L263.3,532.5 L265.9,533.1 L268.4,533.6 L270.9,534.2 L273.4,534.8 L275.9,535.4 L278.4,536.0 L280.9,536.7 L283.4,537.3 L285.9,538.0 L288.4,538.7 L290.9,539.3 L293.5,540.0 L296.0,540.7 L298.5,541.3 L301.0,542.0 L303.5,542.6 L306.0,543.3 L308.5,543.9 L311.0,544.6 L313.5,545.2 L316.0,545.8 L318.5,546.5 L321.0,547.1 L323.6,547.7 L326.1,548.2 L328.6,548.8 L331.1,549.4 L333.6,549.9 L336.1,550.4 L338.6,550.9 L341.1,551.4 L343.6,551.9 L346.1,552.4 L348.6,552.8 L351.2,553.3 L353.7,553.7 L356.2,554.0 L358.7,554.4 L361.2,554.8 L363.7,555.1 L366.2,555.4 L368.7,555.7 L371.2,556.0 L373.7,556.2 L376.2,556.4 L378.7,556.7 L381.3,556.9 L383.8,557.1 L386.3,557.2 L388.8,557.4 L391.3,557.6 L393.8,557.7 L396.3,557.8 L398.8,558.0 L401.3,558.1 L403.8,558.2 L406.3,558.3 L408.9,558.4 L411.4,558.5 L413.9,558.6 L416.4,558.6 L418.9,558.7 L421.4,558.8 L423.9,558.9 L426.4,558.9 L428.9,559.0 L431.4,559.1 L433.9,559.2 L436.4,559.2 L439.0,559.3 L441.5,559.4 L444.0,559.5 L446.5,559.6 L449.0,559.7 L451.5,559.8" fill="none" stroke="#284173" stroke-width="2.8" stroke-linejoin="round"/>
<rect x="88.0" y="473.9" width="399.0" height="314.6" fill="none" stroke="#000" stroke-width="2.4"/>
<line x1="115.7" x2="115.7" y1="789.5" y2="795.5" stroke="#000" stroke-width="2"/>
<text x="116.2" y="813.1" font-size="15.5" text-anchor="middle" letter-spacing="1.0" fill="#1c1c1c">20</text>
<line x1="166.1" x2="166.1" y1="789.5" y2="795.5" stroke="#000" stroke-width="2"/>
<text x="166.6" y="813.1" font-size="15.5" text-anchor="middle" letter-spacing="1.0" fill="#1c1c1c">30</text>
<line x1="216.5" x2="216.5" y1="789.5" y2="795.5" stroke="#000" stroke-width="2"/>
<text x="217.0" y="813.1" font-size="15.5" text-anchor="middle" letter-spacing="1.0" fill="#1c1c1c">40</text>
<line x1="266.9" x2="266.9" y1="789.5" y2="795.5" stroke="#000" stroke-width="2"/>
<text x="267.4" y="813.1" font-size="15.5" text-anchor="middle" letter-spacing="1.0" fill="#1c1c1c">50</text>
<line x1="317.3" x2="317.3" y1="789.5" y2="795.5" stroke="#000" stroke-width="2"/>
<text x="317.8" y="813.1" font-size="15.5" text-anchor="middle" letter-spacing="1.0" fill="#1c1c1c">60</text>
<line x1="367.7" x2="367.7" y1="789.5" y2="795.5" stroke="#000" stroke-width="2"/>
<text x="368.2" y="813.1" font-size="15.5" text-anchor="middle" letter-spacing="1.0" fill="#1c1c1c">70</text>
<line x1="418.1" x2="418.1" y1="789.5" y2="795.5" stroke="#000" stroke-width="2"/>
<text x="418.6" y="813.1" font-size="15.5" text-anchor="middle" letter-spacing="1.0" fill="#1c1c1c">80</text>
<line x1="468.5" x2="468.5" y1="789.5" y2="795.5" stroke="#000" stroke-width="2"/>
<text x="469.0" y="813.1" font-size="15.5" text-anchor="middle" letter-spacing="1.0" fill="#1c1c1c">90</text>
<line x1="81.0" x2="87.0" y1="510.9" y2="510.9" stroke="#000" stroke-width="2"/>
<text x="75.1" y="515.9" font-size="15.5" text-anchor="end" letter-spacing="1.0" fill="#1c1c1c">32.5</text>
<line x1="81.0" x2="87.0" y1="563.0" y2="563.0" stroke="#000" stroke-width="2"/>
<text x="75.1" y="568.0" font-size="15.5" text-anchor="end" letter-spacing="1.0" fill="#1c1c1c">30.0</text>
<line x1="81.0" x2="87.0" y1="615.1" y2="615.1" stroke="#000" stroke-width="2"/>
<text x="75.1" y="620.1" font-size="15.5" text-anchor="end" letter-spacing="1.0" fill="#1c1c1c">27.5</text>
<line x1="81.0" x2="87.0" y1="667.2" y2="667.2" stroke="#000" stroke-width="2"/>
<text x="75.1" y="672.2" font-size="15.5" text-anchor="end" letter-spacing="1.0" fill="#1c1c1c">25.0</text>
<line x1="81.0" x2="87.0" y1="719.3" y2="719.3" stroke="#000" stroke-width="2"/>
<text x="75.1" y="724.3" font-size="15.5" text-anchor="end" letter-spacing="1.0" fill="#1c1c1c">22.5</text>
<line x1="81.0" x2="87.0" y1="771.4" y2="771.4" stroke="#000" stroke-width="2"/>
<text x="75.1" y="776.4" font-size="15.5" text-anchor="end" letter-spacing="1.0" fill="#1c1c1c">20.0</text>
<text x="174.38" y="462.00" font-size="18.00" font-weight="bold" fill="#111" textLength="226.42" lengthAdjust="spacingAndGlyphs" stroke="#111" stroke-width="0.35">Osmotic Hemolysis by Age</text>
<text x="17.30" y="461.10" font-size="24.50" font-weight="bold" fill="#111" textLength="17.29" lengthAdjust="spacingAndGlyphs">B</text>
<text x="251.98" y="839.60" font-size="19.00" fill="#1c1c1c" textLength="22.38" lengthAdjust="spacingAndGlyphs" stroke="#1c1c1c" stroke-width="0.35">Age</text>
<text x="279.76" y="839.60" font-size="19.00" fill="#1c1c1c" textLength="42.39" lengthAdjust="spacingAndGlyphs" stroke="#1c1c1c" stroke-width="0.35">(years)</text>
<text transform="translate(30.20,705.37) rotate(-90)" x="0" y="0" font-size="18.50" fill="#1c1c1c" textLength="144.95" lengthAdjust="spacingAndGlyphs" stroke="#1c1c1c" stroke-width="0.45">Osmotic hemolysis (%)</text>
<text x="101.26" y="493.30" font-size="14.60" fill="#1c1c1c" textLength="24.29" lengthAdjust="spacingAndGlyphs">Sex</text>
<rect x="103.0" y="498.7" width="20" height="40" fill="url(#lg)"/>
<line x1="103.0" x2="123.0" y1="508.3" y2="508.3" stroke="#a80535" stroke-width="2.7"/>
<line x1="103.0" x2="123.0" y1="528.2" y2="528.2" stroke="#284173" stroke-width="2.7"/>
<text x="128.66" y="512.40" font-size="15.00" fill="#1c1c1c" textLength="8.50" lengthAdjust="spacingAndGlyphs">F</text>
<text x="128.44" y="533.00" font-size="15.00" fill="#1c1c1c" textLength="13.82" lengthAdjust="spacingAndGlyphs">M</text>
<path d="M105.4,965.0 L107.9,966.0 L110.4,966.8 L112.9,967.3 L115.4,967.7 L117.9,968.0 L120.4,968.1 L122.9,968.1 L125.4,967.9 L127.9,967.7 L130.4,967.4 L132.9,967.0 L135.4,966.6 L137.9,966.2 L140.4,965.7 L142.9,965.2 L145.4,964.7 L147.9,964.1 L150.4,963.6 L152.9,963.1 L155.4,962.5 L157.9,962.0 L160.4,961.5 L162.9,961.0 L165.4,960.5 L167.9,960.1 L170.4,959.7 L172.9,959.3 L175.4,959.0 L177.9,958.7 L180.4,958.4 L182.9,958.2 L185.4,958.1 L187.9,957.9 L190.4,957.9 L192.9,957.9 L195.4,958.0 L197.9,958.1 L200.4,958.3 L202.9,958.5 L205.4,958.8 L207.9,959.2 L210.4,959.7 L212.9,960.3 L215.4,961.0 L217.9,961.7 L220.4,962.6 L222.9,963.5 L225.4,964.6 L227.9,965.8 L230.4,967.1 L232.9,968.5 L235.4,970.0 L237.9,971.7 L240.4,973.5 L242.9,975.4 L245.4,977.4 L247.9,979.5 L250.4,981.7 L252.9,984.0 L255.4,986.4 L257.9,989.0 L260.4,991.6 L262.9,994.3 L265.4,997.1 L267.9,999.9 L270.4,1002.9 L272.9,1005.9 L275.4,1008.9 L277.9,1011.9 L280.4,1015.0 L282.9,1018.1 L285.4,1021.1 L287.9,1024.1 L290.4,1027.1 L292.9,1030.0 L295.4,1032.8 L297.9,1035.6 L300.4,1038.3 L302.9,1040.9 L305.4,1043.4 L307.9,1045.9 L310.4,1048.2 L312.9,1050.5 L315.4,1052.7 L317.9,1054.7 L320.4,1056.7 L322.9,1058.6 L325.4,1060.4 L327.9,1062.0 L330.4,1063.6 L332.9,1065.0 L335.4,1066.4 L337.9,1067.7 L340.4,1068.8 L342.9,1069.9 L345.4,1070.9 L347.9,1071.7 L350.4,1072.5 L352.9,1073.2 L355.4,1073.8 L357.9,1074.3 L360.4,1074.6 L362.9,1074.9 L365.4,1075.1 L367.9,1075.1 L370.4,1075.1 L372.9,1074.9 L375.4,1074.5 L377.9,1074.1 L380.4,1073.4 L382.9,1072.7 L385.4,1071.7 L387.9,1070.6 L390.4,1069.4 L392.9,1068.0 L395.4,1066.5 L397.9,1064.9 L400.4,1063.1 L402.9,1061.2 L405.4,1059.2 L407.9,1057.1 L410.4,1054.9 L412.9,1052.6 L415.4,1050.2 L417.9,1047.7 L420.4,1045.2 L422.9,1042.6 L425.4,1039.9 L427.9,1037.1 L430.4,1034.3 L432.9,1031.4 L435.4,1028.5 L437.9,1025.5 L440.4,1022.5 L442.9,1019.4 L445.4,1016.3 L447.9,1013.2 L450.4,1010.0 L452.9,1006.8 L455.4,1003.7 L457.9,1000.4 L460.4,997.2 L462.9,994.0 L465.4,990.8 L467.9,987.6 L467.7,1187.1 L465.2,1185.0 L462.7,1182.8 L460.2,1180.7 L457.7,1178.5 L455.2,1176.4 L452.7,1174.2 L450.2,1172.1 L447.7,1170.0 L445.2,1167.8 L442.7,1165.7 L440.2,1163.6 L437.7,1161.6 L435.2,1159.5 L432.7,1157.5 L430.2,1155.5 L427.7,1153.6 L425.2,1151.6 L422.7,1149.7 L420.2,1147.9 L417.7,1146.1 L415.2,1144.3 L412.7,1142.6 L410.2,1140.9 L407.7,1139.2 L405.2,1137.6 L402.7,1136.0 L400.2,1134.4 L397.7,1132.9 L395.2,1131.4 L392.7,1129.9 L390.2,1128.4 L387.7,1127.0 L385.2,1125.6 L382.7,1124.2 L380.2,1122.9 L377.7,1121.5 L375.3,1120.2 L372.8,1118.9 L370.3,1117.5 L367.8,1116.2 L365.3,1114.9 L362.8,1113.5 L360.3,1112.1 L357.8,1110.7 L355.3,1109.3 L352.8,1107.9 L350.3,1106.4 L347.8,1104.9 L345.3,1103.3 L342.8,1101.7 L340.3,1100.1 L337.8,1098.4 L335.3,1096.6 L332.8,1094.8 L330.3,1093.0 L327.8,1091.1 L325.3,1089.2 L322.8,1087.2 L320.3,1085.1 L317.8,1083.0 L315.3,1080.8 L312.8,1078.5 L310.3,1076.2 L307.8,1073.8 L305.3,1071.4 L302.8,1068.9 L300.3,1066.3 L297.8,1063.7 L295.3,1061.0 L292.8,1058.2 L290.3,1055.3 L287.8,1052.4 L285.3,1049.5 L282.8,1046.5 L280.3,1043.5 L277.8,1040.5 L275.3,1037.5 L272.8,1034.5 L270.3,1031.5 L267.8,1028.6 L265.3,1025.7 L262.8,1022.9 L260.3,1020.1 L257.8,1017.4 L255.3,1014.9 L252.8,1012.4 L250.3,1010.0 L247.8,1007.7 L245.3,1005.5 L242.8,1003.4 L240.3,1001.4 L237.8,999.6 L235.3,997.8 L232.8,996.2 L230.3,994.8 L227.8,993.4 L225.3,992.2 L222.8,991.1 L220.3,990.2 L217.8,989.3 L215.3,988.6 L212.8,987.9 L210.3,987.3 L207.8,986.9 L205.3,986.5 L202.8,986.2 L200.3,986.0 L197.8,985.8 L195.4,985.7 L192.9,985.7 L190.4,985.7 L187.9,985.8 L185.4,985.9 L182.9,986.1 L180.4,986.3 L177.9,986.6 L175.4,986.8 L172.9,987.1 L170.4,987.4 L167.9,987.7 L165.4,988.1 L162.9,988.4 L160.4,988.8 L157.9,989.1 L155.4,989.5 L152.9,989.9 L150.4,990.3 L147.9,990.7 L145.4,991.2 L142.9,991.6 L140.4,992.1 L137.9,992.6 L135.4,993.2 L132.9,993.8 L130.4,994.4 L127.9,995.1 L125.4,995.9 L122.9,996.8 L120.4,997.9 L117.9,999.1 L115.4,1000.5 L112.9,1002.1 L110.4,1003.9 L107.9,1005.9 L105.4,1008.3 Z" fill="#b82a52" fill-opacity="0.40"/>
<path d="M105.4,919.0 L107.9,920.0 L110.4,920.9 L112.9,921.6 L115.4,922.2 L117.9,922.7 L120.4,923.1 L122.9,923.4 L125.4,923.6 L127.9,923.8 L130.4,923.9 L132.9,924.0 L135.4,924.0 L137.9,924.1 L140.5,924.0 L143.0,924.0 L145.5,924.0 L148.0,923.9 L150.5,923.9 L153.0,923.8 L155.5,923.7 L158.0,923.6 L160.5,923.5 L163.0,923.5 L165.5,923.4 L168.0,923.3 L170.5,923.2 L173.0,923.1 L175.5,923.1 L178.0,923.0 L180.5,923.0 L183.0,923.0 L185.5,923.0 L188.0,923.0 L190.5,923.1 L193.0,923.2 L195.5,923.3 L198.0,923.5 L200.5,923.7 L203.0,924.0 L205.5,924.3 L208.0,924.7 L210.6,925.2 L213.1,925.7 L215.6,926.3 L218.1,927.0 L220.6,927.7 L223.1,928.5 L225.6,929.4 L228.1,930.3 L230.6,931.4 L233.1,932.5 L235.6,933.7 L238.1,935.0 L240.6,936.3 L243.1,937.8 L245.6,939.4 L248.1,941.0 L250.6,942.8 L253.1,944.6 L255.6,946.5 L258.1,948.4 L260.6,950.5 L263.1,952.6 L265.6,954.7 L268.1,957.0 L270.6,959.2 L273.1,961.6 L275.6,963.9 L278.1,966.4 L280.7,968.8 L283.2,971.3 L285.7,973.9 L288.2,976.4 L290.7,979.0 L293.2,981.7 L295.7,984.3 L298.2,986.9 L300.7,989.6 L303.2,992.2 L305.7,994.9 L308.2,997.5 L310.7,1000.2 L313.2,1002.8 L315.7,1005.4 L318.2,1008.0 L320.7,1010.5 L323.2,1013.0 L325.7,1015.5 L328.2,1017.9 L330.7,1020.3 L333.2,1022.6 L335.7,1024.8 L338.2,1027.0 L340.7,1029.1 L343.2,1031.1 L345.7,1033.1 L348.3,1035.0 L350.8,1036.8 L353.3,1038.6 L355.8,1040.3 L358.3,1041.9 L360.8,1043.5 L363.3,1045.0 L365.8,1046.4 L368.3,1047.8 L370.8,1049.0 L373.3,1050.2 L375.8,1051.4 L378.3,1052.4 L380.8,1053.4 L383.3,1054.3 L385.8,1055.1 L388.3,1055.9 L390.8,1056.5 L393.3,1057.1 L395.8,1057.6 L398.3,1058.1 L400.8,1058.4 L403.3,1058.7 L405.8,1058.9 L408.3,1059.0 L410.8,1059.0 L413.3,1059.0 L415.8,1059.0 L418.4,1058.8 L420.9,1058.7 L423.4,1058.4 L425.9,1058.2 L428.4,1057.9 L430.9,1057.6 L433.4,1057.2 L435.9,1056.9 L438.4,1056.5 L440.9,1056.1 L443.4,1055.7 L445.9,1055.3 L448.4,1054.9 L450.9,1054.5 L451.0,1194.3 L448.5,1190.6 L446.0,1186.9 L443.5,1183.2 L441.0,1179.6 L438.5,1176.0 L436.0,1172.4 L433.5,1168.8 L431.0,1165.3 L428.5,1161.9 L426.0,1158.4 L423.5,1155.1 L420.9,1151.7 L418.4,1148.4 L415.9,1145.2 L413.4,1142.0 L410.9,1138.9 L408.4,1135.9 L405.9,1132.8 L403.4,1129.9 L400.9,1126.9 L398.4,1124.0 L395.9,1121.2 L393.4,1118.3 L390.9,1115.5 L388.4,1112.7 L385.9,1109.9 L383.4,1107.2 L380.9,1104.4 L378.4,1101.7 L375.9,1099.0 L373.4,1096.2 L370.9,1093.5 L368.4,1090.8 L365.9,1088.0 L363.3,1085.3 L360.8,1082.5 L358.3,1079.7 L355.8,1077.0 L353.3,1074.2 L350.8,1071.3 L348.3,1068.5 L345.8,1065.6 L343.3,1062.8 L340.8,1059.9 L338.3,1057.0 L335.8,1054.1 L333.3,1051.3 L330.8,1048.4 L328.3,1045.5 L325.8,1042.6 L323.3,1039.8 L320.8,1036.9 L318.3,1034.1 L315.8,1031.3 L313.3,1028.5 L310.8,1025.7 L308.3,1022.9 L305.7,1020.2 L303.2,1017.4 L300.7,1014.7 L298.2,1012.1 L295.7,1009.4 L293.2,1006.8 L290.7,1004.2 L288.2,1001.6 L285.7,999.1 L283.2,996.6 L280.7,994.1 L278.2,991.7 L275.7,989.4 L273.2,987.0 L270.7,984.8 L268.2,982.6 L265.7,980.5 L263.2,978.4 L260.7,976.4 L258.2,974.5 L255.7,972.6 L253.2,970.8 L250.7,969.1 L248.1,967.5 L245.6,965.9 L243.1,964.4 L240.6,963.0 L238.1,961.6 L235.6,960.4 L233.1,959.2 L230.6,958.0 L228.1,957.0 L225.6,956.0 L223.1,955.0 L220.6,954.2 L218.1,953.4 L215.6,952.6 L213.1,952.0 L210.6,951.4 L208.1,950.8 L205.6,950.3 L203.1,949.9 L200.6,949.5 L198.1,949.1 L195.6,948.8 L193.1,948.5 L190.5,948.3 L188.0,948.2 L185.5,948.0 L183.0,948.0 L180.5,947.9 L178.0,947.9 L175.5,947.9 L173.0,948.0 L170.5,948.1 L168.0,948.2 L165.5,948.4 L163.0,948.6 L160.5,948.8 L158.0,949.0 L155.5,949.3 L153.0,949.6 L150.5,949.9 L148.0,950.2 L145.5,950.6 L143.0,951.0 L140.5,951.4 L138.0,951.9 L135.5,952.3 L132.9,952.8 L130.4,953.3 L127.9,953.9 L125.4,954.6 L122.9,955.3 L120.4,956.2 L117.9,957.1 L115.4,958.2 L112.9,959.5 L110.4,960.9 L107.9,962.6 L105.4,964.4 Z" fill="#57709a" fill-opacity="0.40"/>
<path d="M105.4,987.0 L107.9,986.0 L110.4,985.1 L112.9,984.3 L115.4,983.5 L117.9,982.8 L120.4,982.1 L122.9,981.4 L125.4,980.8 L127.9,980.2 L130.4,979.7 L132.9,979.2 L135.4,978.7 L137.9,978.3 L140.4,977.8 L142.9,977.4 L145.4,977.0 L147.9,976.7 L150.4,976.3 L152.9,975.9 L155.4,975.6 L157.9,975.2 L160.4,974.9 L162.9,974.5 L165.4,974.2 L167.8,973.8 L170.3,973.4 L172.8,973.1 L175.3,972.7 L177.8,972.3 L180.3,972.0 L182.8,971.7 L185.3,971.4 L187.8,971.2 L190.3,971.0 L192.8,970.9 L195.3,970.9 L197.8,971.0 L200.3,971.1 L202.8,971.4 L205.3,971.7 L207.8,972.2 L210.3,972.8 L212.8,973.4 L215.3,974.2 L217.8,975.1 L220.3,976.1 L222.8,977.2 L225.3,978.4 L227.8,979.7 L230.3,981.2 L232.8,982.7 L235.3,984.4 L237.8,986.2 L240.3,988.0 L242.8,990.0 L245.3,992.1 L247.8,994.3 L250.3,996.6 L252.8,999.0 L255.3,1001.4 L257.8,1004.0 L260.3,1006.6 L262.8,1009.3 L265.3,1012.0 L267.8,1014.9 L270.3,1017.7 L272.8,1020.6 L275.3,1023.6 L277.8,1026.5 L280.3,1029.5 L282.8,1032.4 L285.3,1035.4 L287.7,1038.3 L290.2,1041.1 L292.7,1043.9 L295.2,1046.7 L297.7,1049.4 L300.2,1052.0 L302.7,1054.6 L305.2,1057.1 L307.7,1059.5 L310.2,1061.9 L312.7,1064.2 L315.2,1066.4 L317.7,1068.6 L320.2,1070.6 L322.7,1072.7 L325.2,1074.6 L327.7,1076.5 L330.2,1078.3 L332.7,1080.0 L335.2,1081.7 L337.7,1083.3 L340.2,1084.8 L342.7,1086.2 L345.2,1087.6 L347.7,1088.9 L350.2,1090.1 L352.7,1091.2 L355.2,1092.3 L357.7,1093.2 L360.2,1094.1 L362.7,1095.0 L365.2,1095.7 L367.7,1096.4 L370.2,1097.0 L372.7,1097.5 L375.2,1098.0 L377.7,1098.4 L380.2,1098.7 L382.7,1099.0 L385.2,1099.2 L387.7,1099.3 L390.2,1099.4 L392.7,1099.4 L395.2,1099.4 L397.7,1099.3 L400.2,1099.2 L402.7,1099.0 L405.2,1098.8 L407.6,1098.5 L410.1,1098.2 L412.6,1097.9 L415.1,1097.5 L417.6,1097.1 L420.1,1096.7 L422.6,1096.2 L425.1,1095.8 L427.6,1095.3 L430.1,1094.8 L432.6,1094.3 L435.1,1093.8 L437.6,1093.3 L440.1,1092.8 L442.6,1092.3 L445.1,1091.8 L447.6,1091.3 L450.1,1090.8 L452.6,1090.3 L455.1,1089.9 L457.6,1089.4 L460.1,1089.0 L462.6,1088.6 L465.1,1088.3 L467.6,1088.0" fill="none" stroke="#a80535" stroke-width="2.8" stroke-linejoin="round"/>
<path d="M105.4,942.3 L107.9,941.8 L110.4,941.3 L112.9,940.8 L115.4,940.4 L117.9,939.9 L120.4,939.6 L122.9,939.2 L125.4,938.9 L127.9,938.6 L130.4,938.3 L132.9,938.0 L135.4,937.8 L137.9,937.5 L140.5,937.3 L143.0,937.1 L145.5,936.9 L148.0,936.7 L150.5,936.5 L153.0,936.3 L155.5,936.1 L158.0,936.0 L160.5,935.8 L163.0,935.7 L165.5,935.5 L168.0,935.4 L170.5,935.3 L173.0,935.2 L175.5,935.2 L178.0,935.1 L180.5,935.1 L183.0,935.1 L185.5,935.1 L188.0,935.2 L190.5,935.3 L193.0,935.5 L195.5,935.7 L198.0,935.9 L200.5,936.2 L203.0,936.6 L205.5,937.0 L208.0,937.5 L210.6,938.0 L213.1,938.6 L215.6,939.2 L218.1,940.0 L220.6,940.7 L223.1,941.6 L225.6,942.5 L228.1,943.4 L230.6,944.5 L233.1,945.6 L235.6,946.7 L238.1,948.0 L240.6,949.3 L243.1,950.7 L245.6,952.1 L248.1,953.7 L250.6,955.3 L253.1,957.0 L255.6,958.8 L258.1,960.7 L260.6,962.7 L263.1,964.7 L265.6,966.9 L268.1,969.1 L270.6,971.5 L273.1,973.9 L275.6,976.4 L278.1,978.9 L280.7,981.4 L283.2,984.0 L285.7,986.6 L288.2,989.3 L290.7,991.9 L293.2,994.5 L295.7,997.1 L298.2,999.7 L300.7,1002.3 L303.2,1004.9 L305.7,1007.5 L308.2,1010.1 L310.7,1012.7 L313.2,1015.2 L315.7,1017.8 L318.2,1020.4 L320.7,1023.0 L323.2,1025.5 L325.7,1028.1 L328.2,1030.7 L330.7,1033.3 L333.2,1035.9 L335.7,1038.4 L338.2,1040.9 L340.7,1043.4 L343.2,1045.9 L345.7,1048.3 L348.3,1050.7 L350.8,1053.0 L353.3,1055.2 L355.8,1057.4 L358.3,1059.6 L360.8,1061.6 L363.3,1063.7 L365.8,1065.6 L368.3,1067.5 L370.8,1069.4 L373.3,1071.3 L375.8,1073.1 L378.3,1074.9 L380.8,1076.6 L383.3,1078.4 L385.8,1080.1 L388.3,1081.8 L390.8,1083.5 L393.3,1085.2 L395.8,1086.9 L398.3,1088.6 L400.8,1090.3 L403.3,1091.9 L405.8,1093.6 L408.3,1095.2 L410.8,1096.9 L413.3,1098.5 L415.8,1100.2 L418.4,1101.9 L420.9,1103.5 L423.4,1105.2 L425.9,1106.8 L428.4,1108.5 L430.9,1110.2 L433.4,1111.9 L435.9,1113.6 L438.4,1115.3 L440.9,1117.0 L443.4,1118.8 L445.9,1120.5 L448.4,1122.3 L450.9,1124.1" fill="none" stroke="#284173" stroke-width="2.8" stroke-linejoin="round"/>
<rect x="88.0" y="905.6" width="399.0" height="303.4" fill="none" stroke="#000" stroke-width="2.4"/>
<line x1="115.7" x2="115.7" y1="1210.0" y2="1216.0" stroke="#000" stroke-width="2"/>
<text x="116.2" y="1233.7" font-size="15.5" text-anchor="middle" letter-spacing="1.0" fill="#1c1c1c">20</text>
<line x1="166.1" x2="166.1" y1="1210.0" y2="1216.0" stroke="#000" stroke-width="2"/>
<text x="166.6" y="1233.7" font-size="15.5" text-anchor="middle" letter-spacing="1.0" fill="#1c1c1c">30</text>
<line x1="216.5" x2="216.5" y1="1210.0" y2="1216.0" stroke="#000" stroke-width="2"/>
<text x="217.0" y="1233.7" font-size="15.5" text-anchor="middle" letter-spacing="1.0" fill="#1c1c1c">40</text>
<line x1="266.9" x2="266.9" y1="1210.0" y2="1216.0" stroke="#000" stroke-width="2"/>
<text x="267.4" y="1233.7" font-size="15.5" text-anchor="middle" letter-spacing="1.0" fill="#1c1c1c">50</text>
<line x1="317.3" x2="317.3" y1="1210.0" y2="1216.0" stroke="#000" stroke-width="2"/>
<text x="317.8" y="1233.7" font-size="15.5" text-anchor="middle" letter-spacing="1.0" fill="#1c1c1c">60</text>
<line x1="367.7" x2="367.7" y1="1210.0" y2="1216.0" stroke="#000" stroke-width="2"/>
<text x="368.2" y="1233.7" font-size="15.5" text-anchor="middle" letter-spacing="1.0" fill="#1c1c1c">70</text>
<line x1="418.1" x2="418.1" y1="1210.0" y2="1216.0" stroke="#000" stroke-width="2"/>
<text x="418.6" y="1233.7" font-size="15.5" text-anchor="middle" letter-spacing="1.0" fill="#1c1c1c">80</text>
<line x1="468.5" x2="468.5" y1="1210.0" y2="1216.0" stroke="#000" stroke-width="2"/>
<text x="469.0" y="1233.7" font-size="15.5" text-anchor="middle" letter-spacing="1.0" fill="#1c1c1c">90</text>
<line x1="81.0" x2="87.0" y1="929.5" y2="929.5" stroke="#000" stroke-width="2"/>
<text x="75.1" y="934.5" font-size="15.5" text-anchor="end" letter-spacing="1.0" fill="#1c1c1c">40</text>
<line x1="81.0" x2="87.0" y1="1024.5" y2="1024.5" stroke="#000" stroke-width="2"/>
<text x="75.1" y="1029.5" font-size="15.5" text-anchor="end" letter-spacing="1.0" fill="#1c1c1c">36</text>
<line x1="81.0" x2="87.0" y1="1119.5" y2="1119.5" stroke="#000" stroke-width="2"/>
<text x="75.1" y="1124.5" font-size="15.5" text-anchor="end" letter-spacing="1.0" fill="#1c1c1c">32</text>
<text x="170.08" y="893.40" font-size="18.00" font-weight="bold" fill="#111" textLength="235.32" lengthAdjust="spacingAndGlyphs" stroke="#111" stroke-width="0.35">Oxidative Hemolysis by Age</text>
<text x="17.37" y="892.50" font-size="24.50" font-weight="bold" fill="#111" textLength="16.46" lengthAdjust="spacingAndGlyphs">C</text>
<text x="251.98" y="1260.60" font-size="19.00" fill="#1c1c1c" textLength="22.38" lengthAdjust="spacingAndGlyphs" stroke="#1c1c1c" stroke-width="0.35">Age</text>
<text x="279.76" y="1260.60" font-size="19.00" fill="#1c1c1c" textLength="42.39" lengthAdjust="spacingAndGlyphs" stroke="#1c1c1c" stroke-width="0.35">(years)</text>
<text transform="translate(43.50,1130.24) rotate(-90)" x="0" y="0" font-size="18.50" fill="#1c1c1c" textLength="145.79" lengthAdjust="spacingAndGlyphs" stroke="#1c1c1c" stroke-width="0.45">Oxidative hemolysis (%)</text>
<text x="102.06" y="1149.80" font-size="14.60" fill="#1c1c1c" textLength="24.29" lengthAdjust="spacingAndGlyphs">Sex</text>
<rect x="103.0" y="1155.2" width="20" height="40" fill="url(#lg)"/>
<line x1="103.0" x2="123.0" y1="1164.8" y2="1164.8" stroke="#a80535" stroke-width="2.7"/>
<line x1="103.0" x2="123.0" y1="1184.7" y2="1184.7" stroke="#284173" stroke-width="2.7"/>
<text x="129.46" y="1168.90" font-size="15.00" fill="#1c1c1c" textLength="8.50" lengthAdjust="spacingAndGlyphs">F</text>
<text x="129.24" y="1189.50" font-size="15.00" fill="#1c1c1c" textLength="13.82" lengthAdjust="spacingAndGlyphs">M</text>
<rect x="1.4" y="1.4" width="501.2" height="1277.2" fill="none" stroke="#111" stroke-width="2.8"/>
</svg>
</body></html>
